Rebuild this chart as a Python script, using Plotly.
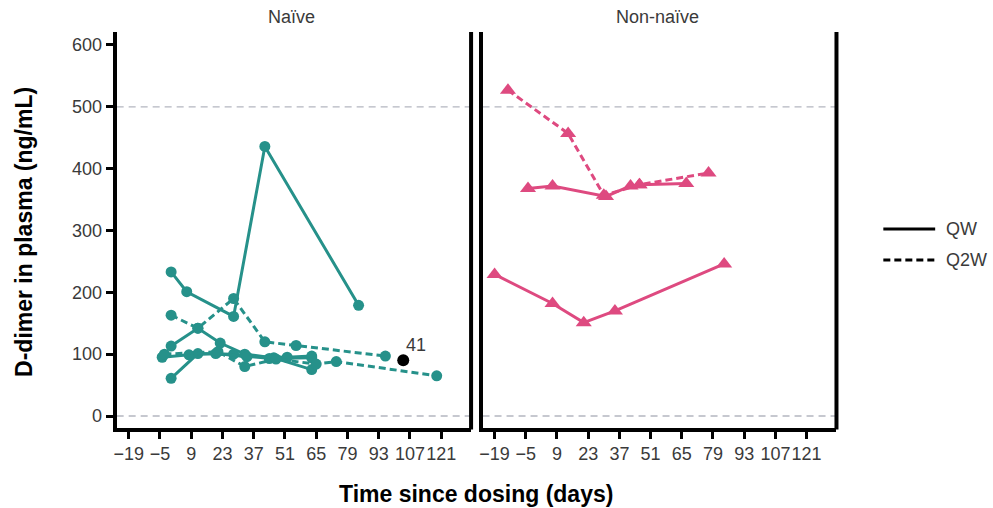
import plotly.graph_objects as go

# ---- data -----------------------------------------------------------------
TICK_DAYS = [-19, -5, 9, 23, 37, 51, 65, 79, 93, 107, 121]
TICK_DAY_LABELS = ["\u221219", "\u22125", "9", "23", "37", "51", "65", "79", "93", "107", "121"]
TICK_DDIMER = [0, 100, 200, 300, 400, 500, 600]
REFERENCE_LEVELS = [0, 500]

# Naive cohort, weekly dosing (QW)
naive_qw_days = [
    [0, 7, 28, 42, 84],
    [0, 12, 22, 33, 46, 63],
    [0, 12, 28, 44, 63],
    [-4, 8, 20, 34, 52, 63],
]
naive_qw_vals = [
    [233, 201, 161, 436, 179],
    [113, 142, 118, 100, 94, 75],
    [61, 101, 100, 93, 94],
    [95, 99, 101, 96, 95, 97],
]

# Naive cohort, every-two-weeks dosing (Q2W)
naive_q2w_days = [
    [0, 12, 28, 42, 56, 96],
    [-3, 21, 33, 47, 65, 74, 119],
]
naive_q2w_vals = [
    [163, 142, 190, 120, 114, 97],
    [100, 104, 80, 92, 84, 88, 65],
]

# Non-naive cohort
nonnaive_qw_days = [
    [-19, 7, 21, 35, 84],
    [-4, 7, 31, 42, 46, 67],
]
nonnaive_qw_vals = [
    [229, 182, 151, 170, 246],
    [368, 372, 355, 372, 374, 376],
]
nonnaive_q2w_days = [[-13, 14, 30, 46, 77]]
nonnaive_q2w_vals = [[527, 457, 357, 374, 393]]

# Highlighted subject
flagged_day = [104]
flagged_val = [90]
flagged_label = "41"

# ---- styling ----------------------------------------------------------------
TEAL = "#26918a"
PINK = "#de4a80"
TEXT = "#3a3a3a"
FONT = "Arial, Liberation Sans, sans-serif"
DASH = "7px,4px"
X_RANGE = [-24.4, 134.4]
Y_RANGE = [-18.6, 621]

fig = go.Figure()


def add_series(days_list, vals_list, color, symbol, size, dash, xa, ya):
    for d, v in zip(days_list, vals_list):
        fig.add_trace(go.Scatter(
            x=d, y=v, mode="lines+markers", xaxis=xa, yaxis=ya,
            line=dict(color=color, width=3, dash=dash),
            marker=dict(symbol=symbol, size=size, color=color),
            showlegend=False, hoverinfo="x+y",
        ))


add_series(naive_qw_days, naive_qw_vals, TEAL, "circle", 11, "solid", "x", "y")
add_series(naive_q2w_days, naive_q2w_vals, TEAL, "circle", 11, DASH, "x", "y")
add_series(nonnaive_qw_days, nonnaive_qw_vals, PINK, "triangle-up", 14, "solid", "x2", "y2")
add_series(nonnaive_q2w_days, nonnaive_q2w_vals, PINK, "triangle-up", 14, DASH, "x2", "y2")

fig.add_trace(go.Scatter(
    x=flagged_day, y=flagged_val, mode="markers", xaxis="x", yaxis="y",
    marker=dict(color="black", size=12), showlegend=False,
))

axis_common = dict(
    showgrid=False, zeroline=False, showline=True, linewidth=4, linecolor="black",
    ticks="outside", ticklen=7, tickwidth=3, tickcolor="black", tickangle=0,
    tickfont=dict(family=FONT, size=18, color=TEXT),
)

fig.update_layout(
    width=993, height=508,
    margin=dict(l=0, r=0, t=0, b=0),
    paper_bgcolor="white", plot_bgcolor="white",
    xaxis=dict(domain=[114 / 993, 469.5 / 993], range=X_RANGE, anchor="y",
               tickvals=TICK_DAYS, ticktext=TICK_DAY_LABELS, **axis_common),
    xaxis2=dict(domain=[481 / 993, 836 / 993], range=X_RANGE, anchor="y2",
                tickvals=TICK_DAYS, ticktext=TICK_DAY_LABELS, **axis_common),
    yaxis=dict(domain=[(508 - 427.5) / 508, (508 - 32) / 508], range=Y_RANGE,
               anchor="x", tickvals=TICK_DDIMER, **axis_common),
    yaxis2=dict(domain=[(508 - 427.5) / 508, (508 - 32) / 508], range=Y_RANGE,
                anchor="x2", matches="y", showgrid=False, zeroline=False,
                showline=True, linewidth=4, linecolor="black",
                showticklabels=False, ticks=""),
)

shapes = []
for xa, ya in (("x", "y"), ("x2", "y2")):
    # dashed reference levels
    for lvl in REFERENCE_LEVELS:
        shapes.append(dict(type="line", xref=f"{xa} domain", yref=ya,
                           x0=0, x1=1, y0=lvl, y1=lvl, layer="below",
                           line=dict(color="#b4b6c0", width=1.3, dash="7px,5px")))
    # right-hand panel border
    shapes.append(dict(type="line", xref=f"{xa} domain", yref=f"{ya} domain",
                       x0=1, x1=1, y0=-0.005, y1=1,
                       line=dict(color="black", width=4)))

# line-type key
key_items = [("QW", "solid", 229), ("Q2W", DASH, 260)]
annotations = []
for name, dash, ypx in key_items:
    yp = (508 - ypx) / 508
    shapes.append(dict(type="line", xref="paper", yref="paper",
                       x0=883 / 993, x1=935 / 993, y0=yp, y1=yp,
                       line=dict(color="black", width=3, dash=dash)))
    annotations.append(dict(text=name, xref="paper", yref="paper",
                            x=944 / 993, y=yp, xanchor="left", yanchor="middle",
                            showarrow=False, font=dict(family=FONT, size=18, color=TEXT)))

# panel titles
for title, xc in (("Naïve", 289 / 993), ("Non-naïve", 656 / 993)):
    annotations.append(dict(text=title, xref="paper", yref="paper", x=xc, y=(508 - 17) / 508,
                            xanchor="center", yanchor="middle", showarrow=False,
                            font=dict(family=FONT, size=18, color=TEXT)))

# flagged subject label
annotations.append(dict(text=flagged_label, xref="x", yref="y",
                        x=flagged_day[0], y=flagged_val[0], xanchor="left", yanchor="bottom",
                        xshift=1, yshift=3, showarrow=False,
                        font=dict(family=FONT, size=18, color=TEXT)))

# axis titles
annotations.append(dict(text="<b>Time since dosing (days)</b>", xref="paper", yref="paper",
                        x=474 / 993, y=(508 - 494) / 508, xanchor="center", yanchor="middle",
                        showarrow=False, font=dict(family=FONT, size=23, color="black")))
annotations.append(dict(text="<b>D-dimer in plasma (ng/mL)</b>", xref="paper", yref="paper",
                        x=21 / 993, y=(508 - 232) / 508, xanchor="center", yanchor="middle",
                        textangle=-90, showarrow=False,
                        font=dict(family=FONT, size=23, color="black")))

fig.update_layout(shapes=shapes, annotations=annotations)

fig.write_html("out.html")
